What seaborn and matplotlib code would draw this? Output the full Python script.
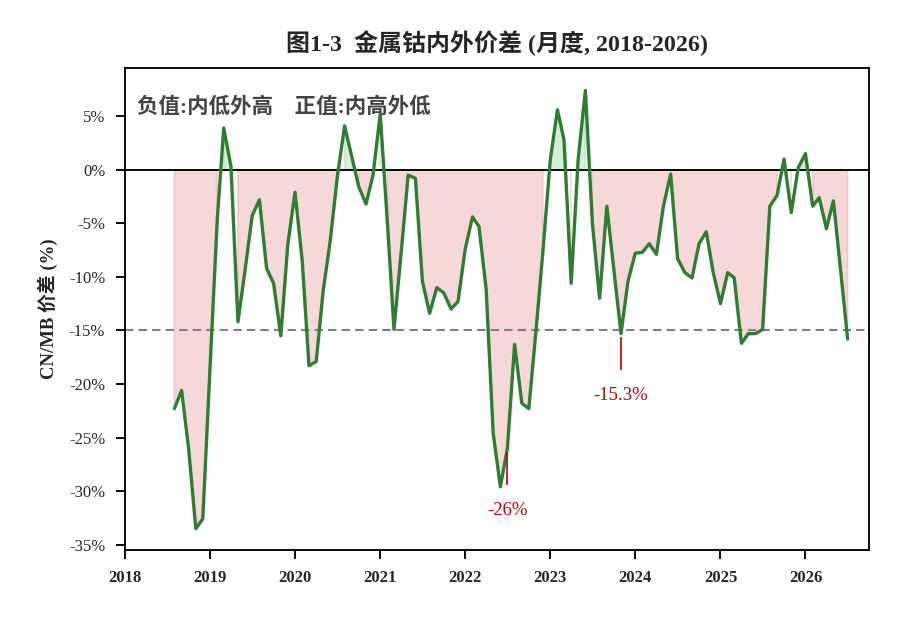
import numpy as np
import pandas as pd
import matplotlib
matplotlib.use("Agg")
import matplotlib.pyplot as plt
import matplotlib.dates as mdates
from matplotlib.ticker import FuncFormatter
import seaborn as sns

sns.set_style("ticks")
plt.rcParams["font.family"] = ["Liberation Serif", "Noto Sans CJK SC"]
plt.rcParams["axes.edgecolor"] = "black"
plt.rcParams["axes.unicode_minus"] = False

# monthly CN/MB spread (%), Aug 2018 -> Jul 2026
start_month = "2018-08-01"
spread = [
    -22.3, -20.6, -26.0, -33.5, -32.6,
    -18.5, -4.7, 3.9, 0.3, -14.2, -9.3, -4.3, -2.8, -9.2, -10.6, -15.5, -7.0,
    -2.1, -8.5, -18.3, -17.9, -11.3, -6.5, -0.6, 4.1, 1.2, -1.6, -3.2, -0.5,
    5.2, -5.0, -14.9, -7.7, -0.5, -0.8, -10.4, -13.4, -11.0, -11.5, -13.0, -12.3,
    -7.4, -4.4, -5.3, -11.2, -24.6, -29.6, -26.0, -16.3, -21.8, -22.3, -15.0, -7.5,
    0.9, 5.6, 2.8, -10.6, 1.0, 7.4, -5.0, -12.0, -3.4, -9.3, -15.3, -10.4,
    -7.8, -7.7, -6.9, -7.9, -3.4, -0.4, -8.3, -9.6, -10.1, -6.9, -5.8, -9.6,
    -12.5, -9.6, -10.1, -16.2, -15.3, -15.3, -14.9, -3.4, -2.4, 1.0, -4.0, 0.2,
    1.5, -3.4, -2.6, -5.5, -2.9, -9.4, -15.8,
]
threshold = -15
callouts = [("2022-07-01", "-26%"), ("2023-11-01", "-15.3%")]
title = "图1-3  金属钴内外价差 (月度, 2018-2026)"
ylabel = "CN/MB 价差 (%)"
note = "负值:内低外高    正值:内高外低"

df = pd.DataFrame({
    "month": pd.date_range(start_month, periods=len(spread), freq="MS"),
    "spread": spread,
})

red = "#c00000"
fig = plt.figure(figsize=(6, 6.2 / 1.5), dpi=150)
ax = fig.add_axes([0.1389, 0.1129, 0.8267, 0.7774])

x = df["month"].values
y = df["spread"].values
ax.fill_between(x, y, 0, where=y < 0, color="#e57373", alpha=0.28, lw=0.8)
ax.fill_between(x, y, 0, where=y > 0, color="#66bb6a", alpha=0.25, lw=0.8)
ax.axhline(0, color="black", lw=0.9)
ax.axhline(threshold, color="#808080", lw=1.0, ls=(0, (4, 2.5)))
sns.lineplot(data=df, x="month", y="spread", ax=ax, color="#2e7d32", lw=1.6)

for d, lab in callouts:
    d = pd.Timestamp(d)
    v = df.loc[df["month"] == d, "spread"].iloc[0]
    ax.vlines(d, v - 0.35, v - 3.4, color=red, lw=0.8)
    ax.text(d, v - 5.8, lab, color=red, fontsize=9, ha="center", va="center")

ax.text(0.016, 0.917, note, transform=ax.transAxes, fontsize=10.3,
        fontweight="bold", color="#444444", va="center", ha="left")

ax.set_xlim(pd.Timestamp("2018-01-01"), pd.Timestamp("2026-10-01"))
ax.set_ylim(-35.5, 9.5)
ax.xaxis.set_major_locator(mdates.YearLocator())
ax.xaxis.set_major_formatter(mdates.DateFormatter("%Y"))
ax.set_yticks(np.arange(-35, 6, 5))
ax.yaxis.set_major_formatter(FuncFormatter(lambda v, p: f"{v:.0f}%"))
ax.tick_params(axis="both", labelsize=8, length=4.5, width=0.9, pad=5,
               color="black")
for t in ax.get_xticklabels():
    t.set_fontweight("bold")
ax.set_xlabel("")
ax.set_ylabel(ylabel, fontsize=9, fontweight="bold", labelpad=5)
ax.set_title(title, fontsize=11.5, fontweight="bold", pad=8)
for s in ax.spines.values():
    s.set_visible(True)
    s.set_linewidth(0.9)

fig.savefig("out.png", dpi=150)
